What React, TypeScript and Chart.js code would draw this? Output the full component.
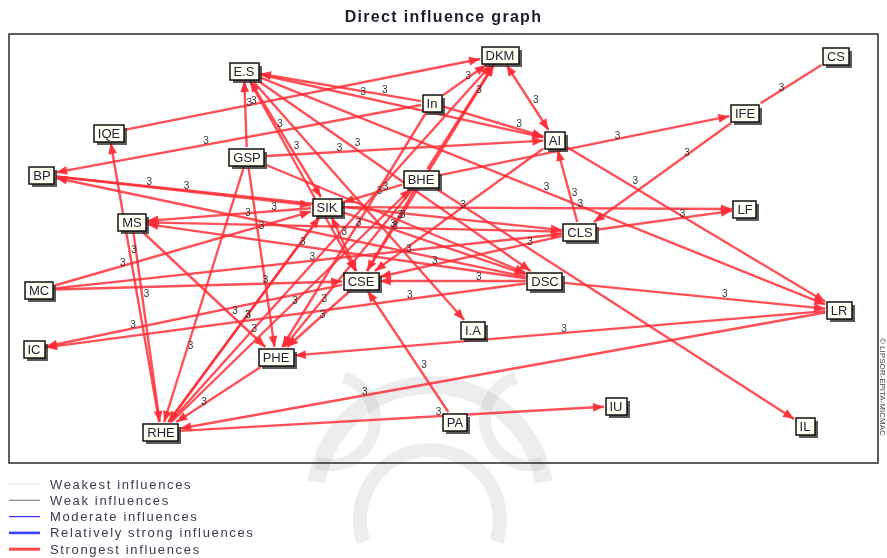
import React, { useEffect, useRef } from "react";
import { Chart, registerables } from "chart.js";
Chart.register(...registerables);

const nodeNames = ["DKM","CS","E.S","In","IQE","AI","IFE","GSP","BP","BHE","SIK","LF","MS","CLS","CSE","DSC","MC","LR","I.A","IC","PHE","IU","PA","RHE","IL"];
const nodeX = [500,836,244,432,109,555,745,247,42,421,327,745,132,580,361,545,39,839,473,34,276,616,455,161,805];
const nodeY = [55,56,71,103,133,140,113,157,175,179,207,209,222,232,281,281,290,310,330,349,357,406,422,432,426];

const edgeFrom = ["IQE","In","In","In","In","E.S","GSP","GSP","GSP","GSP","GSP","E.S","E.S","E.S","E.S","BP","DSC","SIK","CLS","MS","MS","RHE","MC","MC","MC","SIK","SIK","SIK","SIK","BHE","BHE","BHE","BHE","BHE","BHE","CLS","DKM","AI","AI","CS","IFE","CLS","CSE","CSE","CSE","DSC","DSC","DSC","LR","LR","PA","RHE","RHE","RHE","CLS","In","DSC","BP","RHE","PHE","E.S"];
const edgeTo = ["DKM","BP","E.S","DKM","AI","AI","E.S","AI","DSC","RHE","PHE","SIK","CSE","LR","I.A","SIK","BP","MS","MS","PHE","RHE","IQE","SIK","CLS","CSE","CSE","LF","DSC","RHE","DKM","SIK","IFE","IL","CSE","PHE","AI","AI","LR","CSE","IFE","CLS","LF","DKM","PHE","IC","CSE","LR","IC","PHE","RHE","CSE","IU","DKM","SIK","CSE","PHE","MS","CLS","BHE","RHE","DSC"];
const edgeHeads = [1,1,1,1,1,1,1,1,1,1,1,2,1,1,1,1,1,1,1,1,1,1,1,1,1,2,1,1,1,1,1,1,1,1,1,1,2,1,1,0,1,1,1,1,1,1,1,1,1,1,1,1,1,1,1,1,1,1,1,1,1];
const edgeValues = edgeFrom.map(() => 3);

const legendLabels = ["Weakest influences","Weak influences","Moderate influences","Relatively strong influences","Strongest influences"];
const legendColors = ["#e2e2e2","#707070","#3030ff","#4040ff","#ff4848"];
const legendWidths = [1, 1, 1.2, 2.6, 3];

const titleText = "Direct influence graph";
const copyrightText = "© LIPSOR-EPITA-MICMAC";

export default function App() {
  const ref = useRef<HTMLCanvasElement>(null);
  useEffect(() => {
    const canvas = ref.current!;
    const boxFont = "13px Arial";
    const labelFracs = [0.35, 0.6, 0.25, 0.5, 0.72];

    const boxOf = (ctx: CanvasRenderingContext2D, name: string) => {
      ctx.font = boxFont;
      const w = ctx.measureText(name).width + 8;
      return { hw: w / 2, hh: 8.5 };
    };

    const plugin = {
      id: "graph",
      beforeDraw(chart: any) {
        const ctx: CanvasRenderingContext2D = chart.ctx;
        ctx.save();
        ctx.fillStyle = "#ffffff";
        ctx.fillRect(0, 0, chart.width, chart.height);
        // faint watermark
        ctx.strokeStyle = "rgba(150,150,150,0.17)";
        ctx.lineWidth = 18;
        ctx.beginPath();
        ctx.arc(430, 500, 115, Math.PI * 1.05, Math.PI * 1.95);
        ctx.stroke();
        ctx.lineWidth = 14;
        ctx.beginPath();
        ctx.arc(430, 520, 70, Math.PI * 0.9, Math.PI * 2.1);
        ctx.stroke();
        ctx.lineWidth = 12;
        ctx.beginPath();
        ctx.arc(330, 420, 45, Math.PI * 1.6, Math.PI * 2.6);
        ctx.stroke();
        ctx.beginPath();
        ctx.arc(530, 420, 45, Math.PI * 0.4, Math.PI * 1.4);
        ctx.stroke();
        ctx.restore();
      },
      beforeDatasetsDraw(chart: any) {
        const ctx: CanvasRenderingContext2D = chart.ctx;
        const xs = chart.scales.x, ys = chart.scales.y;
        const ca = chart.chartArea;
        ctx.save();
        ctx.strokeStyle = "#2a2a2a";
        ctx.lineWidth = 1.5;
        ctx.strokeRect(ca.left, ca.top, ca.right - ca.left, ca.bottom - ca.top);
        const pos = (n: string) => {
          const i = nodeNames.indexOf(n);
          return { x: xs.getPixelForValue(nodeX[i]), y: ys.getPixelForValue(nodeY[i]) };
        };
        const clip = (c: {x:number,y:number}, o: {x:number,y:number}, name: string) => {
          const b = boxOf(ctx, name);
          const dx = o.x - c.x, dy = o.y - c.y;
          const s = Math.min((b.hw + 1.5) / Math.max(Math.abs(dx), 1e-6), (b.hh + 1.5) / Math.max(Math.abs(dy), 1e-6));
          return { x: c.x + dx * s, y: c.y + dy * s };
        };
        const arrow = (tip: {x:number,y:number}, from: {x:number,y:number}) => {
          const a = Math.atan2(tip.y - from.y, tip.x - from.x);
          const L = 11, W = 4.4;
          ctx.beginPath();
          ctx.moveTo(tip.x, tip.y);
          ctx.lineTo(tip.x - L * Math.cos(a) + W * Math.sin(a), tip.y - L * Math.sin(a) - W * Math.cos(a));
          ctx.lineTo(tip.x - L * Math.cos(a) - W * Math.sin(a), tip.y - L * Math.sin(a) + W * Math.cos(a));
          ctx.closePath();
          ctx.fill();
        };
        const labels: { x: number; y: number; t: string }[] = [];
        edgeFrom.forEach((f, i) => {
          const t = edgeTo[i];
          const p1 = pos(f), p2 = pos(t);
          const a = clip(p1, p2, f);
          const b = clip(p2, p1, t);
          ctx.strokeStyle = "rgba(255,45,55,0.84)";
          ctx.fillStyle = "rgba(255,45,55,0.94)";
          ctx.lineWidth = 2.4;
          ctx.beginPath();
          ctx.moveTo(a.x, a.y);
          ctx.lineTo(b.x, b.y);
          ctx.stroke();
          if (edgeHeads[i] >= 1) arrow(b, a);
          if (edgeHeads[i] >= 2) arrow(a, b);
          const fr = labelFracs[i % labelFracs.length];
          labels.push({ x: a.x + (b.x - a.x) * fr, y: a.y + (b.y - a.y) * fr, t: String(edgeValues[i]) });
        });
        ctx.font = "10px Arial";
        ctx.fillStyle = "#333";
        ctx.textAlign = "center";
        ctx.textBaseline = "middle";
        labels.forEach((l) => ctx.fillText(l.t, l.x + 4, l.y - 4));
        ctx.restore();
      },
      afterDatasetsDraw(chart: any) {
        const ctx: CanvasRenderingContext2D = chart.ctx;
        const xs = chart.scales.x, ys = chart.scales.y;
        ctx.save();
        nodeNames.forEach((n, i) => {
          const cx = xs.getPixelForValue(nodeX[i]);
          const cy = ys.getPixelForValue(nodeY[i]);
          const b = boxOf(ctx, n);
          const x0 = Math.round(cx - b.hw), y0 = Math.round(cy - b.hh);
          const w = Math.round(b.hw * 2), h = Math.round(b.hh * 2);
          ctx.fillStyle = "rgba(50,50,50,0.8)";
          ctx.fillRect(x0 + 3, y0 + 3, w, h);
          ctx.fillStyle = "#fffff4";
          ctx.fillRect(x0, y0, w, h);
          ctx.strokeStyle = "#111";
          ctx.lineWidth = 1.5;
          ctx.strokeRect(x0, y0, w, h);
          ctx.fillStyle = "#22223a";
          ctx.font = boxFont;
          ctx.textAlign = "center";
          ctx.textBaseline = "middle";
          ctx.fillText(n, cx, cy + 1);
        });
        ctx.restore();
      },
      afterDraw(chart: any) {
        const ctx: any = chart.ctx;
        const ca = chart.chartArea;
        ctx.save();
        ctx.fillStyle = "#1c1c2c";
        ctx.font = "bold 16px Arial";
        ctx.textAlign = "center";
        ctx.textBaseline = "middle";
        if ("letterSpacing" in ctx) ctx.letterSpacing = "1.3px";
        ctx.fillText(titleText, (ca.left + ca.right) / 2, 18);
        // legend
        ctx.font = "13px Arial";
        if ("letterSpacing" in ctx) ctx.letterSpacing = "1.65px";
        ctx.textAlign = "left";
        legendLabels.forEach((l, i) => {
          const y = 484 + i * 16.3;
          ctx.strokeStyle = legendColors[i];
          ctx.lineWidth = legendWidths[i];
          ctx.beginPath();
          ctx.moveTo(9, y);
          ctx.lineTo(40, y);
          ctx.stroke();
          ctx.fillStyle = "#3a3a4a";
          ctx.fillText(l, 50, y + 1);
        });
        // copyright
        if ("letterSpacing" in ctx) ctx.letterSpacing = "0px";
        ctx.translate(882, 338);
        ctx.rotate(Math.PI / 2);
        ctx.font = "8px Arial";
        ctx.fillStyle = "#444";
        ctx.textAlign = "left";
        ctx.fillText(copyrightText, 0, 0);
        ctx.restore();
      },
    };

    const chart = new Chart(canvas, {
      type: "scatter",
      data: {
        datasets: [
          {
            data: nodeNames.map((_, i) => ({ x: nodeX[i], y: nodeY[i] })),
            pointRadius: 0,
          },
        ],
      },
      options: {
        responsive: false,
        animation: false,
        devicePixelRatio: 1,
        layout: { padding: { left: 9, top: 34, right: 9, bottom: 95 } },
        scales: {
          x: { type: "linear", min: 9, max: 878, display: false },
          y: { type: "linear", min: 34, max: 463, reverse: true, display: false },
        },
        plugins: { legend: { display: false }, tooltip: { enabled: false }, title: { display: false } },
      },
      plugins: [plugin],
    });
    return () => chart.destroy();
  }, []);
  return (
    <div style={{ position: "fixed", left: 0, top: 0, width: 887, height: 558, background: "#fff" }}>
      <canvas ref={ref} width={887} height={558} style={{ display: "block" }} />
    </div>
  );
}
